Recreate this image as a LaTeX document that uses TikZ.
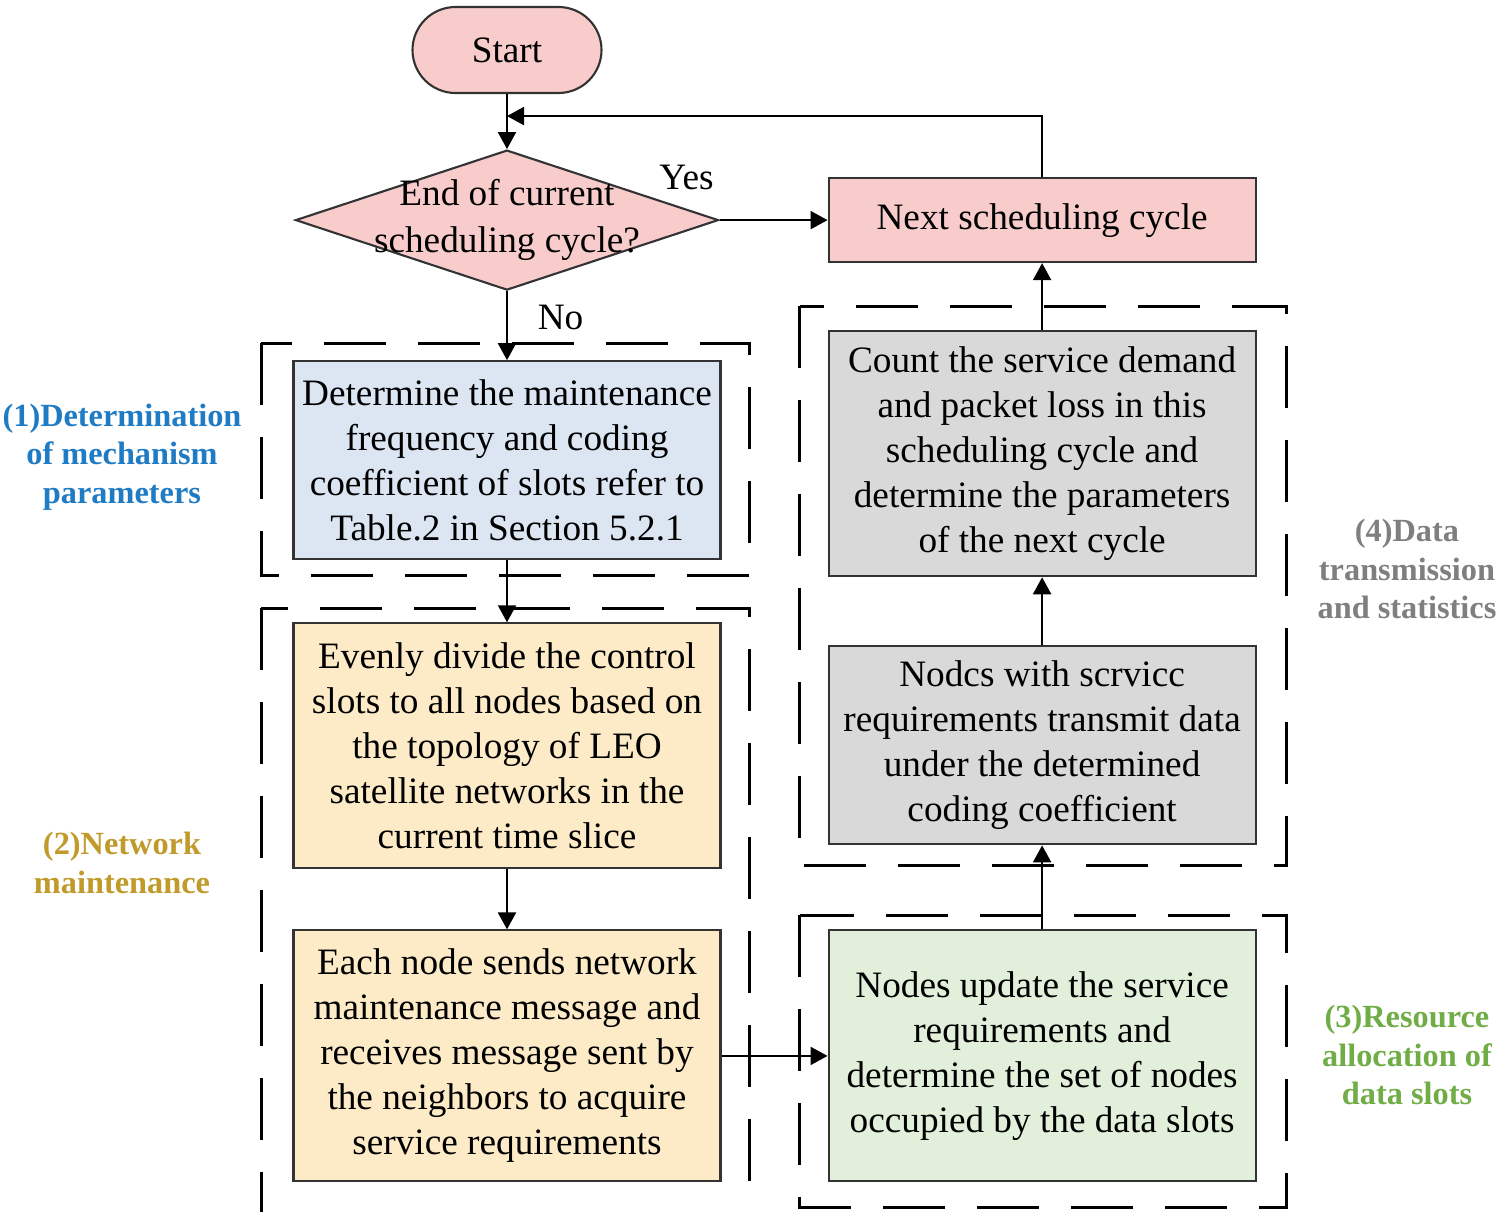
\documentclass[tikz,border=0pt]{standalone}
\usepackage{fontspec}
\setmainfont{Liberation Serif}
\usetikzlibrary{arrows.meta, positioning, shapes.geometric, calc}
\definecolor{edge}{HTML}{333333}
\definecolor{pinkbg}{HTML}{F9CCCC}
\definecolor{bluebg}{HTML}{DCE6F2}
\definecolor{sandbg}{HTML}{FDEBC8}
\definecolor{greenbg}{HTML}{E2EFDA}
\definecolor{greybg}{HTML}{D9D9D9}
\definecolor{tagblue}{HTML}{1F7BC4}
\definecolor{taggold}{HTML}{C09A2A}
\definecolor{taggreen}{HTML}{70AD47}
\definecolor{taggrey}{HTML}{7F7F7F}

\begin{document}
\begin{tikzpicture}[
    font=\fontsize{10.6}{12.8}\selectfont,
    box/.style={draw=edge, line width=0.6pt, align=center, inner sep=0pt, minimum width=42.7mm},
    term/.style={box, fill=pinkbg, rounded corners=4.3mm, minimum width=18.9mm, minimum height=8.6mm},
    dec/.style={diamond, draw=edge, line width=0.6pt, fill=pinkbg, inner sep=0pt, minimum width=42.3mm, minimum height=14mm},
    stage/.style={box, fill=#1},
    grp/.style={draw=black, line width=0.9pt, dash pattern=on 6.2mm off 3.2mm},
    tag/.style={font=\fontsize{9.2}{10.9}\selectfont\bfseries, align=center},
    ar/.style={-{Triangle[length=1.7mm, width=1.8mm]}, black, line width=0.6pt}
  ]
    \useasboundingbox (0,0) rectangle (15,-12.12);
    \node[term] (start) at (5.07,-0.5) {Start};
    \node[dec, below=5.5mm of start, label={[align=center, font=\fontsize{10.6}{13.4}\selectfont]center:End of current\\scheduling cycle?}] (cyc) {};
    \node[stage=pinkbg, right=10.8mm of cyc, minimum height=8.4mm] (next) {Next scheduling cycle};
    \node[stage=bluebg, below=6.9mm of cyc, minimum height=19.8mm] (param) {Determine the maintenance\\frequency and coding\\coefficient of slots refer to\\Table.2 in Section 5.2.1};
    \node[stage=sandbg, below=6.2mm of param, minimum height=24.5mm] (divide) {Evenly divide the control\\slots to all nodes based on\\the topology of LEO\\satellite networks in the\\current time slice};
    \node[stage=sandbg, below=6mm of divide, minimum height=25.1mm] (hello) {Each node sends network\\maintenance message and\\receives message sent by\\the neighbors to acquire\\service requirements};
    \node[stage=greenbg, right=10.6mm of hello, minimum height=25.1mm] (update) {Nodes update the service\\requirements and\\determine the set of nodes\\occupied by the data slots};
    \node[stage=greybg, above=8.4mm of update, minimum height=19.8mm] (trans) {Nodcs with scrvicc\\requirements transmit data\\under the determined\\coding coefficient};
    \node[stage=greybg, above=6.8mm of trans, minimum height=24.5mm] (count) {Count the service demand\\and packet loss in this\\scheduling cycle and\\determine the parameters\\of the next cycle};

    % dashed phase frames
    \draw[grp] ($(param.north west)+(-3.1mm,1.7mm)$) rectangle ($(param.south east)+(2.8mm,-1.5mm)$);
    \draw[grp] ($(divide.north west)+(-3.1mm,1.4mm)$) rectangle ($(hello.south east)+(2.8mm,-3.2mm)$);
    \draw[grp] ($(update.north west)+(-2.8mm,1.4mm)$) rectangle ($(update.south east)+(3mm,-2.5mm)$);
    \draw[grp] ($(count.north west)+(-2.8mm,2.4mm)$) rectangle ($(trans.south east)+(3mm,-2mm)$);

    \node[tag, text=tagblue] (t1) at (1.22,-4.57) {(1)Determination\\of mechanism\\parameters};
    \node[tag, text=taggold] (t2) at (1.22,-8.63) {(2)Network\\maintenance};
    \node[tag, text=taggreen] (t3) at (14.07,-10.55) {(3)Resource\\allocation of\\data slots};
    \node[tag, text=taggrey] (t4) at (14.07,-5.69) {(4)Data\\transmission\\and statistics};

    \coordinate (back) at ($(start.south)!0.4!(cyc.north)$);
    \draw[ar] (start) -- (cyc);
    \draw[ar] (cyc) -- (next);
    \node (yes) at ($(cyc.east)+(-3.3mm,4.3mm)$) {Yes};
    \draw[ar] (cyc) -- node[pos=0.38, right=1.8mm] (no) {No} (param);
    \draw[ar] (next.north) |- (back);
    \draw[ar] (param) -- (divide);
    \draw[ar] (divide) -- (hello);
    \draw[ar] (hello) -- (update);
    \draw[ar] (update) -- (trans);
    \draw[ar] (trans) -- (count);
    \draw[ar] (count) -- (next);
\end{tikzpicture}
\end{document}
